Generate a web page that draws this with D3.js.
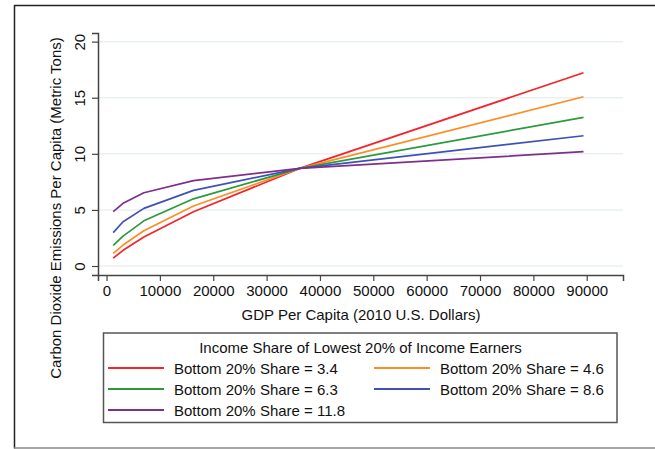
<!DOCTYPE html>
<html>
<head>
<meta charset="utf-8">
<script src="https://cdn.jsdelivr.net/npm/d3@7"></script>
<style>
  html, body { margin: 0; padding: 0; background: #fff; }
  svg { display: block; font-family: "Liberation Sans", Arial, Helvetica, sans-serif; }
</style>
</head>
<body>
<svg id="chart" width="655" height="449"></svg>
<script>
// GDP per capita evaluation points (2010 U.S. dollars)
const gdp = [1250, 3100, 7000, 16300, 36200, 89400];

// Predicted CO2 emissions per capita (metric tons) by bottom-20% income share
const share34  = [0.70, 1.40, 2.58, 4.83, 8.70, 17.23];
const share46  = [1.13, 1.87, 3.15, 5.35, 8.70, 15.09];
const share63  = [1.84, 2.67, 4.03, 5.99, 8.70, 13.25];
const share86  = [2.98, 3.95, 5.14, 6.74, 8.70, 11.61];
const share118 = [4.84, 5.59, 6.53, 7.61, 8.70, 10.19];

const seriesLabels = ["Bottom 20% Share = 3.4", "Bottom 20% Share = 4.6",
  "Bottom 20% Share = 6.3", "Bottom 20% Share = 8.6", "Bottom 20% Share = 11.8"];
const seriesColors = ["#f5232b", "#fd8d27", "#2b9a3f", "#3f51b5", "#7e2f8e"];
const seriesValues = [share34, share46, share63, share86, share118];

const xTicks = [0, 10000, 20000, 30000, 40000, 50000, 60000, 70000, 80000, 90000];
const yTicks = [0, 5, 10, 15, 20];

const xTitle = "GDP Per Capita (2010 U.S. Dollars)";
const yTitle = "Carbon Dioxide Emissions Per Capita (Metric Tons)";
const legendTitle = "Income Share of Lowest 20% of Income Earners";

const FONT = "15px";
const svg = d3.select("#chart");

// outer frame
svg.append("line").attr("x1", 14).attr("x2", 655).attr("y1", 5.5).attr("y2", 5.5)
  .attr("stroke", "#222").attr("stroke-width", 1.5);
svg.append("line").attr("x1", 14.5).attr("x2", 14.5).attr("y1", 5).attr("y2", 448.5)
  .attr("stroke", "#222").attr("stroke-width", 1.5);
svg.append("line").attr("x1", 14).attr("x2", 655).attr("y1", 448).attr("y2", 448)
  .attr("stroke", "#888").attr("stroke-width", 1.5);

const x = d3.scaleLinear().domain([-1600, 96800]).range([98, 623]);
const y = d3.scaleLinear().domain([-0.8, 20.77]).range([275, 33]);

// horizontal grid
svg.append("g").selectAll("line").data(yTicks).join("line")
  .attr("x1", 98).attr("x2", 623)
  .attr("y1", d => y(d)).attr("y2", d => y(d))
  .attr("stroke", "#eaf1f1").attr("stroke-width", 1.5);

// axes
const xAxis = svg.append("g").attr("transform", "translate(0,275)")
  .call(d3.axisBottom(x).tickValues(xTicks).tickFormat(d3.format("d")).tickSizeOuter(0).tickSize(6).tickPadding(4));
const yAxis = svg.append("g").attr("transform", "translate(98,0)")
  .call(d3.axisLeft(y).tickValues(yTicks).tickFormat(d3.format("d")).tickSizeOuter(0).tickSize(6));

[xAxis, yAxis].forEach(g => {
  g.select(".domain").attr("stroke", "#444").attr("stroke-width", 1.5);
  g.selectAll(".tick line").attr("stroke", "#444").attr("stroke-width", 1.2);
  g.selectAll("text").attr("fill", "#111").style("font-size", FONT)
    .style("font-family", "'Liberation Sans', Arial, sans-serif");
});

// rotated y tick labels
yAxis.selectAll(".tick text")
  .attr("x", null).attr("dy", null)
  .attr("text-anchor", "middle")
  .attr("transform", "translate(-19,0) rotate(-90)")
  .attr("dominant-baseline", "central");

// axis titles
svg.append("text").attr("x", 361).attr("y", 314).attr("text-anchor", "middle")
  .attr("dominant-baseline", "central")
  .style("font-size", FONT).attr("fill", "#111").text(xTitle);
svg.append("text").attr("transform", "translate(55,208) rotate(-90)")
  .attr("text-anchor", "middle").attr("dominant-baseline", "central")
  .style("font-size", FONT).attr("fill", "#111").text(yTitle);

// prediction lines
const line = d3.line().x((d, i) => x(gdp[i])).y(d => y(d));
svg.append("g").selectAll("path").data(seriesValues).join("path")
  .attr("d", d => line(d))
  .attr("fill", "none")
  .attr("stroke", (d, i) => seriesColors[i])
  .attr("stroke-width", 1.7)
  .attr("stroke-linejoin", "round");

// legend
const lg = svg.append("g");
lg.append("rect").attr("x", 103.5).attr("y", 333).attr("width", 513.5).attr("height", 89.5)
  .attr("fill", "#fff").attr("stroke", "#555").attr("stroke-width", 1.5);
lg.append("text").attr("x", 360.5).attr("y", 347).attr("text-anchor", "middle")
  .attr("dominant-baseline", "central").style("font-size", FONT).attr("fill", "#111")
  .text(legendTitle);
const colX = [108, 374];
const rowY = [368, 389, 410];
seriesLabels.forEach((lab, i) => {
  const cx = colX[i % 2], cy = rowY[Math.floor(i / 2)];
  lg.append("line").attr("x1", cx).attr("x2", cx + 56).attr("y1", cy).attr("y2", cy)
    .attr("stroke", seriesColors[i]).attr("stroke-width", 1.8);
  lg.append("text").attr("x", cx + 66).attr("y", cy).attr("dominant-baseline", "central")
    .style("font-size", FONT).attr("fill", "#111").text(lab);
});
</script>
</body>
</html>
